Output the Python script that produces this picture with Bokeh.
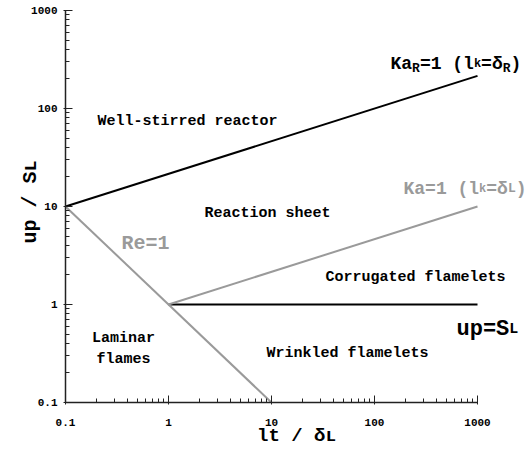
import math
from bokeh.plotting import figure
from bokeh.models import Label, FixedTicker, Range1d
from bokeh.embed import file_html
from bokeh.resources import INLINE

# ---- data ----
x_ticks = [0.1, 1, 10, 100, 1000]
x_tick_labels = ["0.1", "1", "10", "100", "1000"]
y_ticks = [0.1, 1, 10, 100, 1000]
y_tick_labels = ["0.1", "1", "10", "100", "1000"]

kar_x = [0.1, 1000]      # Ka_R = 1
kar_y = [10, 215]
ka_x = [1, 1000]         # Ka = 1
ka_y = [1, 10]
re_x = [0.1, 10]         # Re = 1
re_y = [10, 0.1]
us_x = [1, 1000]         # u' = S_L
us_y = [1, 1]

BLACK = "#000000"
GRAY = "#9a9a9a"
FONT = "Liberation Mono"

W, H = 528, 452
LEFT, BOTTOM = 65, 50          # frame left edge / bottom border (px)
XDEC, YDEC = 103.0, 98.0       # px per decade
X_TOP = 10 ** (-1 + (W - LEFT) / XDEC)
Y_TOP = 10 ** (-1 + (H - BOTTOM) / YDEC)

p = figure(width=W, height=H, x_axis_type="log", y_axis_type="log",
           x_range=Range1d(0.1, X_TOP), y_range=Range1d(0.1, Y_TOP),
           output_backend="svg", toolbar_location=None,
           min_border_left=LEFT, min_border_right=0, min_border_top=0, min_border_bottom=BOTTOM)
p.outline_line_color = None
p.xgrid.visible = False
p.ygrid.visible = False

minor = [m * 10.0 ** e for e in range(-1, 3) for m in range(2, 10)]
for ax, ticks, labs in ((p.xaxis[0], x_ticks, x_tick_labels), (p.yaxis[0], y_ticks, y_tick_labels)):
    ax.ticker = FixedTicker(ticks=ticks, minor_ticks=minor)
    ax.bounds = (0.1, 1000)
    ax.major_label_overrides = {t: l for t, l in zip(ticks, labs)}
    ax.major_label_text_font = FONT
    ax.major_label_text_font_style = "bold"
    ax.major_label_text_font_size = "11px"
    ax.major_label_text_color = BLACK
    ax.axis_line_color = "#222222"
    ax.axis_line_width = 1.5
    ax.major_tick_line_color = "#222222"
    ax.minor_tick_line_color = "#222222"
    ax.major_tick_in = 7
    ax.major_tick_out = 2
    ax.minor_tick_in = 4
    ax.minor_tick_out = 0
    ax.axis_label_text_font = FONT
    ax.axis_label_text_font_style = "bold"
    ax.axis_label_text_color = BLACK
p.yaxis[0].major_label_standoff = 6
p.xaxis[0].major_label_standoff = 14
p.yaxis[0].axis_label = "up / Sʟ"
p.yaxis[0].axis_label_text_font_size = "20px"
p.yaxis[0].axis_label_standoff = -14
p.xaxis[0].axis_label = "lt / δʟ"
p.xaxis[0].axis_label_text_font_size = "19px"
p.xaxis[0].axis_label_standoff = -4

p.line(kar_x, kar_y, line_color=BLACK, line_width=2)
p.line(us_x, us_y, line_color=BLACK, line_width=2)
p.line(re_x, re_y, line_color=GRAY, line_width=2)
p.line(ka_x, ka_y, line_color=GRAY, line_width=2)


def rx(px):
    return 10 ** (-1 + (px - LEFT) / XDEC)


def ry(py):
    return 10 ** (-1 + (H - BOTTOM - py) / YDEC)


def rich(xd, yd, parts, color, align="left", xo=0, yo=0):
    total = sum(len(t) * 0.6 * s for t, s, d in parts)
    pos = -total / 2 if align == "center" else 0.0
    for t, s, d in parts:
        lab = Label(x=xd, y=yd, x_offset=xo + pos, y_offset=yo + d, text=t)
        lab.text_font = FONT
        lab.text_font_style = "bold"
        lab.text_font_size = f"{s}px"
        lab.text_color = color
        lab.text_align = "left"
        lab.text_baseline = "alphabetic"
        p.add_layout(lab)
        pos += len(t) * 0.6 * s


def plain(px, py, text, size, color=BLACK):
    # text centred at pixel position (px, py)
    rich(rx(px), ry(py), [(text, size, 0)], color, align="center", yo=-0.35 * size)


plain(187, 116, "Well-stirred reactor", 15)
plain(267, 208, "Reaction sheet", 15)
plain(145, 236, "Re=1", 20, GRAY)
plain(415, 272, "Corrugated flamelets", 15)
plain(347, 348, "Wrinkled flamelets", 15)
plain(123, 333, "Laminar", 15)
plain(123, 354, "flames", 15)

# Ka_R = 1 (l_k = delta_R)
rich(rx(390), ry(57), [("Ka", 18, 0), ("R", 13, -5), ("=1 (", 18, 0), ("l", 18, 0), ("k", 12, 0),
                       ("=δ", 18, 0), ("R", 13, -5), (")", 18, 0)], BLACK, yo=-6)
# Ka = 1 (l_k = delta_L)
rich(rx(403), ry(182), [("Ka=1 (", 18, 0), ("l", 18, 0), ("k", 12, 0), ("=δ", 18, 0),
                        ("L", 13, 0), (")", 18, 0)], GRAY, yo=-6)
# u' = S_L
rich(rx(456), ry(322), [("up=S", 22, 0), ("L", 15, 0)], BLACK, yo=-7)

open("out.html", "w").write(file_html(p, INLINE))
